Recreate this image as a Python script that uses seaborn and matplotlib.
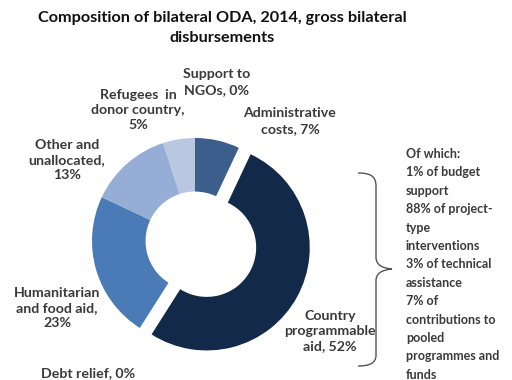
import matplotlib
matplotlib.use("Agg")
import matplotlib.pyplot as plt
from matplotlib.path import Path
from matplotlib.patches import PathPatch
import seaborn as sns

# Bilateral ODA composition, 2014 (% of gross bilateral disbursements)
categories = [
    "Administrative\ncosts",
    "Country\nprogrammable\naid",
    "Debt relief",
    "Humanitarian\nand food aid",
    "Other and\nunallocated",
    "Refugees  in\ndonor country",
    "Support to\nNGOs",
]
shares = [7, 52, 0, 23, 13, 5, 0]
value_breaks = [" ", " ", " ", "\n", "\n", "\n", " "]

cpa_breakdown = [
    "Of which:",
    "1% of budget",
    "support",
    "88% of project-",
    "type",
    "interventions",
    "3% of technical",
    "assistance",
    "7% of",
    "contributions to",
    "pooled",
    "programmes and",
    "funds",
]

title = "Composition of bilateral ODA, 2014, gross bilateral\ndisbursements"

# ---- styling -------------------------------------------------------------
sns.set_theme(style="white")
plt.rcParams["font.family"] = ["Lato", "DejaVu Sans"]

palette = ["#3b5e8c", "#13294a", "#2f5f9e", "#4a7bb7", "#96aed5", "#b9c7e1", "#ccd6ea"]
explode = [0, 0.13, 0, 0, 0, 0, 0]
label_xy = [(290, 121), (330, 331), (88, 373), (57, 308), (67, 160), (138, 110), (217, 82)]
text_color = "#3a3a3a"

W, H = 512, 380
fig = plt.figure(figsize=(W / 100, H / 100), dpi=100)
fig.patch.set_facecolor("white")


def fx(x):
    return x / W


def fy(y):
    return 1 - y / H


# donut centred at (195, 241) px with outer radius 103 px
cx, cy, R = 195, 241, 103
span = 1.3
ax = fig.add_axes([fx(cx - span * R), fy(cy + span * R),
                   2 * span * R / W, 2 * span * R / H])
ax.pie(shares, colors=palette, startangle=90, counterclock=False,
       explode=explode, radius=1.0,
       wedgeprops=dict(width=0.52, edgecolor="none", linewidth=0))
ax.set_xlim(-span, span)
ax.set_ylim(-span, span)
ax.set_aspect("auto")
ax.axis("off")

# slice labels
for name, v, sep, (x, y) in zip(categories, shares, value_breaks, label_xy):
    fig.text(fx(x), fy(y), f"{name},{sep}{v}%", ha="center", va="center",
             multialignment="center", fontsize=10.2, fontweight="bold",
             color=text_color, linespacing=1.33)

# title
fig.text(fx(222), fy(28), title, ha="center", va="center",
         fontsize=11.7, fontweight="bold", color="#111111", linespacing=1.55)

# brace grouping the country programmable aid breakdown
verts = [(358, 173), (370, 173), (376, 176), (376, 186),
         (376, 257),
         (376, 265), (382, 268), (392, 269),
         (382, 270), (376, 273), (376, 281),
         (376, 355),
         (376, 363), (370, 366), (358, 366)]
codes = [Path.MOVETO, Path.CURVE4, Path.CURVE4, Path.CURVE4,
         Path.LINETO,
         Path.CURVE4, Path.CURVE4, Path.CURVE4,
         Path.CURVE4, Path.CURVE4, Path.CURVE4,
         Path.LINETO,
         Path.CURVE4, Path.CURVE4, Path.CURVE4]
brace = PathPatch(Path([(fx(x), fy(y)) for x, y in verts], codes),
                  transform=fig.transFigure, facecolor="none",
                  edgecolor="#555555", linewidth=1.0)
fig.patches.append(brace)

fig.text(fx(406), fy(148), "\n".join(cpa_breakdown), ha="left", va="top",
         fontsize=9, fontweight="bold", color=text_color, linespacing=1.64)

fig.savefig("out.png", dpi=100, facecolor="white")
